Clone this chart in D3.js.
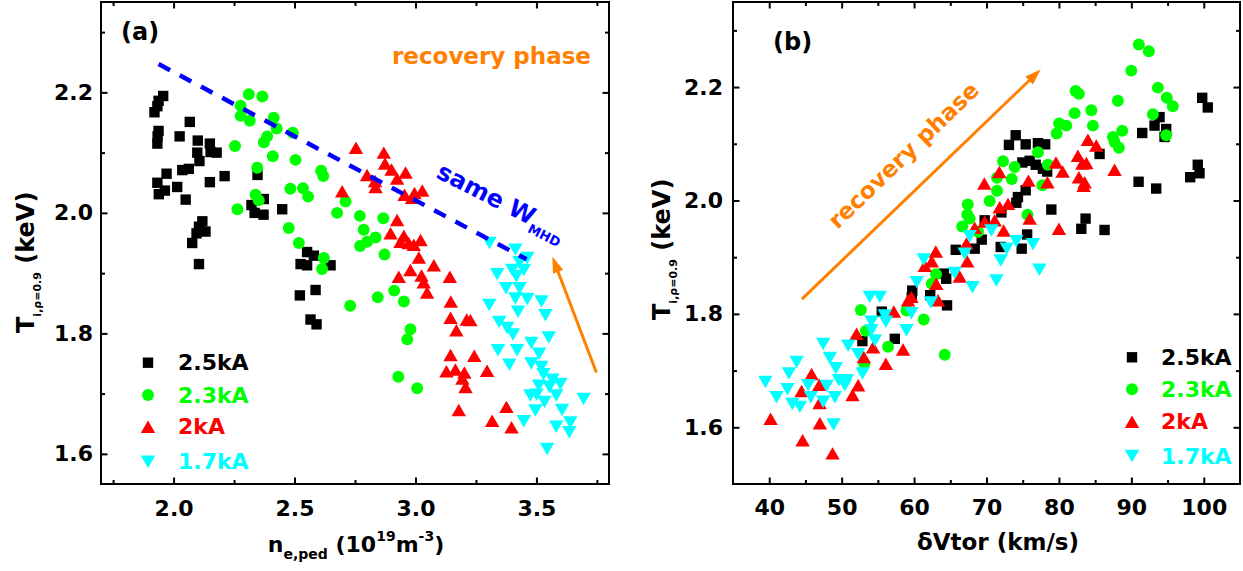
<!DOCTYPE html>
<html><head><meta charset="utf-8">
<script src="https://cdn.jsdelivr.net/npm/d3@7/dist/d3.min.js"></script>
<style>
body{margin:0;background:#fff;}
svg{display:block;}
text{font-family:"DejaVu Sans",sans-serif;font-weight:bold;}
</style></head><body>
<svg id="c" width="1243" height="571"></svg>
<script>
// ---------- series meta ----------
const seriesLabels = ["2.5kA","2.3kA","2kA","1.7kA"];
const seriesColors = ["#000000","#00ff00","#ff0000","#00ffff"];
const seriesShapes = ["square","circle","triUp","triDown"];

// ---------- ticks ----------
const aXTicks = [2.0,2.5,3.0,3.5];
const aXMinor = [1.75,2.25,2.75,3.25,3.75];
const aYTicks = [1.6,1.8,2.0,2.2];
const aYMinor = [1.7,1.9,2.1,2.3];
const bXTicks = [40,50,60,70,80,90,100];
const bXMinor = [45,55,65,75,85,95];
const bYTicks = [1.6,1.8,2.0,2.2];
const bYMinor = [1.7,1.9,2.1,2.3];
const aDomX = [1.7,3.8], aDomY = [1.55,2.35];
const bDomX = [35,105], bDomY = [1.5,2.35];

// ---------- panel (a): n_e,ped vs Ti ----------
const a25 = [[1.957,2.194],[1.938,2.186],[1.933,2.177],[1.921,2.167],[1.938,2.136],[1.934,2.127],[1.933,2.115],[2.025,2.127],[2.067,2.151],[2.100,2.120],[2.098,2.100],[2.150,2.115],[2.178,2.100],[2.153,2.101],[2.107,2.086],[1.971,2.065],[1.933,2.050],[1.964,2.037],[1.939,2.031],[2.015,2.043],[2.036,2.071],[2.063,2.073],[2.150,2.051],[2.211,2.061],[2.050,2.022],[2.119,1.986],[2.105,1.977],[2.095,1.966],[2.077,1.950],[2.132,1.969],[2.105,1.915],[2.347,2.063],[2.373,2.023],[2.322,2.013],[2.335,2.000],[2.372,1.997],[2.449,2.006],[2.552,1.935],[2.580,1.929],[2.525,1.915],[2.552,1.913],[2.649,1.913],[2.587,1.872],[2.522,1.863],[2.566,1.823],[2.591,1.815]];
const a23 = [[2.311,2.197],[2.367,2.193],[2.277,2.178],[2.277,2.161],[2.315,2.153],[2.414,2.158],[2.426,2.140],[2.387,2.127],[2.373,2.117],[2.493,2.133],[2.254,2.111],[2.410,2.094],[2.504,2.088],[2.346,2.075],[2.264,2.006],[2.339,2.030],[2.352,2.021],[2.476,1.975],[2.518,1.950],[2.483,2.040],[2.535,2.041],[2.556,2.027],[2.610,2.070],[2.619,2.061],[2.711,2.019],[2.676,2.000],[2.770,1.995],[2.867,1.991],[2.786,1.972],[2.835,1.959],[2.800,1.952],[2.771,1.945],[2.872,1.931],[2.621,1.925],[2.614,1.907],[2.912,1.871],[2.952,1.853],[2.844,1.860],[2.730,1.846],[2.979,1.807],[2.966,1.790],[2.929,1.728],[3.007,1.709]];
const a20 = [[2.754,2.108],[2.869,2.100],[2.874,2.082],[2.800,2.063],[2.901,2.072],[2.959,2.067],[2.833,2.053],[2.924,2.057],[2.835,2.043],[2.697,2.036],[2.955,2.030],[2.996,2.033],[3.028,2.037],[2.986,2.025],[2.924,1.988],[2.897,1.966],[2.952,1.962],[2.938,1.952],[2.972,1.950],[3.021,1.955],[2.993,1.947],[3.014,1.926],[3.076,1.913],[2.979,1.905],[2.931,1.894],[3.025,1.896],[3.034,1.885],[3.048,1.868],[3.142,1.894],[3.146,1.853],[3.145,1.826],[3.212,1.823],[3.227,1.822],[3.169,1.805],[3.145,1.764],[3.243,1.763],[3.128,1.737],[3.165,1.740],[3.202,1.735],[3.194,1.725],[3.207,1.711],[3.296,1.738],[3.179,1.673],[3.376,1.678],[3.317,1.655],[3.397,1.644]];
const a17 = [[3.306,1.950],[3.413,1.939],[3.462,1.925],[3.430,1.918],[3.400,1.905],[3.448,1.905],[3.338,1.898],[3.417,1.895],[3.374,1.875],[3.430,1.875],[3.413,1.858],[3.462,1.857],[3.521,1.853],[3.305,1.847],[3.424,1.836],[3.537,1.830],[3.346,1.819],[3.379,1.809],[3.403,1.798],[3.551,1.793],[3.479,1.784],[3.341,1.772],[3.420,1.772],[3.511,1.766],[3.388,1.748],[3.479,1.750],[3.520,1.744],[3.529,1.732],[3.566,1.723],[3.599,1.716],[3.510,1.713],[3.554,1.711],[3.475,1.697],[3.501,1.698],[3.582,1.697],[3.695,1.691],[3.533,1.686],[3.496,1.672],[3.606,1.673],[3.448,1.654],[3.582,1.645],[3.640,1.652],[3.636,1.636],[3.544,1.608]];
const aSameW = [[1.938,2.247],[3.459,1.923]];
const aArrow = [[3.748,1.735],[3.566,1.927]];

// ---------- panel (b): dVtor vs Ti ----------
const b25 = [[74.03,2.115],[73.10,2.098],[75.41,2.099],[77.10,2.101],[78.10,2.099],[74.95,2.067],[75.96,2.070],[76.79,2.063],[77.79,2.056],[78.37,2.051],[85.61,2.082],[91.50,2.119],[93.20,2.132],[93.89,2.147],[94.81,2.126],[94.58,2.112],[99.78,2.181],[100.55,2.164],[91.00,2.033],[93.43,2.021],[99.17,2.063],[99.41,2.048],[98.12,2.041],[78.95,1.984],[83.68,1.968],[83.09,1.950],[86.30,1.948],[75.41,2.018],[74.34,2.006],[74.12,1.996],[72.06,1.979],[69.75,1.965],[69.34,1.931],[68.37,1.915],[71.96,1.918],[74.86,1.915],[75.61,1.940],[65.75,1.913],[64.10,1.871],[64.44,1.862],[59.75,1.841],[59.68,1.829],[62.23,1.833],[64.55,1.815],[55.54,1.804],[57.34,1.756],[52.86,1.752]];
const b23 = [[91.03,2.275],[92.41,2.263],[89.99,2.229],[93.66,2.199],[94.90,2.181],[95.72,2.166],[92.97,2.152],[94.81,2.115],[88.14,2.176],[88.74,2.123],[87.45,2.112],[88.28,2.093],[87.68,2.103],[82.30,2.193],[82.76,2.188],[82.17,2.154],[84.47,2.159],[84.69,2.132],[80.03,2.136],[81.02,2.132],[79.68,2.118],[77.10,2.085],[78.48,2.063],[72.28,2.069],[73.89,2.059],[71.45,2.040],[73.48,2.038],[77.71,2.027],[71.45,2.017],[70.44,1.999],[67.41,1.993],[67.34,1.975],[66.65,1.954],[67.68,1.968],[68.83,1.945],[75.66,1.975],[63.03,1.870],[62.44,1.853],[61.34,1.790],[52.65,1.807],[58.95,1.806],[53.34,1.770],[56.41,1.742],[53.13,1.712],[64.23,1.728]];
const b20 = [[84.00,2.107],[85.16,2.097],[82.62,2.079],[83.23,2.065],[83.78,2.066],[82.76,2.041],[83.55,2.032],[83.41,2.026],[87.68,2.054],[79.59,2.067],[80.51,2.051],[78.41,2.032],[75.79,2.035],[71.77,2.050],[69.70,2.030],[71.82,1.988],[72.97,1.994],[75.96,1.968],[80.00,1.950],[71.13,1.965],[72.37,1.947],[69.75,1.963],[68.37,1.952],[67.23,1.924],[67.34,1.893],[63.00,1.910],[62.44,1.893],[61.48,1.885],[66.30,1.866],[63.06,1.853],[59.64,1.830],[59.17,1.824],[63.31,1.824],[57.20,1.804],[52.06,1.765],[54.34,1.741],[58.48,1.737],[56.10,1.712],[53.06,1.724],[45.85,1.694],[44.47,1.664],[46.92,1.675],[46.95,1.643],[51.50,1.657],[52.28,1.674],[40.19,1.615],[46.99,1.607],[44.61,1.577],[48.74,1.554]];
const b17 = [[70.68,1.947],[67.68,1.937],[66.99,1.906],[65.61,1.872],[72.79,1.915],[74.12,1.928],[76.41,1.923],[71.96,1.894],[77.30,1.878],[71.37,1.859],[68.06,1.847],[61.34,1.896],[60.37,1.856],[62.30,1.820],[59.64,1.801],[58.95,1.771],[55.96,1.797],[56.10,1.786],[54.12,1.786],[54.12,1.771],[54.58,1.753],[53.89,1.830],[55.27,1.830],[52.28,1.729],[52.88,1.695],[50.90,1.744],[47.45,1.747],[48.37,1.722],[49.20,1.704],[43.78,1.715],[42.72,1.695],[39.48,1.680],[41.02,1.653],[42.51,1.667],[43.20,1.641],[44.23,1.636],[45.38,1.674],[45.75,1.653],[47.45,1.645],[47.92,1.673],[49.06,1.653],[49.61,1.683],[50.72,1.683],[50.44,1.674],[48.88,1.605]];
const bArrow = [[44.51,1.826],[77.48,2.231]];

// ---------- drawing ----------
const svg = d3.select("#c");
const ORANGE = "#ff8000";
const FONT = '"DejaVu Sans", sans-serif';

const shapeTypes = {
  square: d3.symbolSquare,
  circle: d3.symbolCircle,
  triUp: {draw(c,s){const a=Math.sqrt(s*4/Math.sqrt(3)),h=a*Math.sqrt(3)/2;c.moveTo(0,-h/2);c.lineTo(a/2,h/2);c.lineTo(-a/2,h/2);c.closePath();}},
  triDown: {draw(c,s){const a=Math.sqrt(s*4/Math.sqrt(3)),h=a*Math.sqrt(3)/2;c.moveTo(0,h/2);c.lineTo(a/2,-h/2);c.lineTo(-a/2,-h/2);c.closePath();}}
};
const shapeSizes = {square:108, circle:112, triUp:90, triDown:90};

function styleAxis(sel){
  sel.select(".domain").remove();
  sel.selectAll("line").attr("stroke","#000").attr("stroke-width",2);
  sel.attr("font-family",FONT).attr("font-size",22).attr("font-weight","bold");
  sel.selectAll("text").attr("fill","#000");
}

function panel(cfg){
  const x = d3.scaleLinear(cfg.dx, cfg.rx);
  const y = d3.scaleLinear(cfg.dy, cfg.ry);
  const g = svg.append("g");
  cfg.series.forEach((data,i)=>{
    const sh = seriesShapes[i];
    g.append("g").selectAll("path").data(data).join("path")
      .attr("transform", d=>`translate(${x(d[0])},${y(d[1])})`)
      .attr("d", d3.symbol(shapeTypes[sh], shapeSizes[sh]))
      .attr("fill", seriesColors[i]);
  });
  const [x0,x1] = cfg.rx, [y0,y1] = cfg.ry; // y0 bottom, y1 top
  g.append("g").attr("transform",`translate(0,${y0})`)
    .call(d3.axisBottom(x).tickValues(cfg.xt).tickSize(-6.5).tickFormat(cfg.xf))
    .call(styleAxis).call(s=>s.selectAll("text").attr("y",cfg.xLabY).attr("dy",null));
  g.append("g").attr("transform",`translate(0,${y0})`)
    .call(d3.axisBottom(x).tickValues(cfg.xm).tickSize(-4).tickFormat(""))
    .call(styleAxis);
  g.append("g").attr("transform",`translate(0,${y1})`)
    .call(d3.axisTop(x).tickValues(cfg.xt).tickSize(-6.5).tickFormat(""))
    .call(styleAxis);
  g.append("g").attr("transform",`translate(0,${y1})`)
    .call(d3.axisTop(x).tickValues(cfg.xm).tickSize(-4).tickFormat(""))
    .call(styleAxis);
  g.append("g").attr("transform",`translate(${x0},0)`)
    .call(d3.axisLeft(y).tickValues(cfg.yt).tickSize(-6.5).tickPadding(cfg.yPad).tickFormat(d3.format(".1f")))
    .call(styleAxis);
  g.append("g").attr("transform",`translate(${x0},0)`)
    .call(d3.axisLeft(y).tickValues(cfg.ym).tickSize(-4).tickFormat(""))
    .call(styleAxis);
  g.append("g").attr("transform",`translate(${x1},0)`)
    .call(d3.axisRight(y).tickValues(cfg.yt).tickSize(-6.5).tickFormat(""))
    .call(styleAxis);
  g.append("g").attr("transform",`translate(${x1},0)`)
    .call(d3.axisRight(y).tickValues(cfg.ym).tickSize(-4).tickFormat(""))
    .call(styleAxis);
  g.append("rect").attr("x",x0).attr("y",y1).attr("width",x1-x0).attr("height",y0-y1)
    .attr("fill","none").attr("stroke","#000").attr("stroke-width",2);
  cfg.leg.ys.forEach((ly,i)=>{
    const sh = seriesShapes[i];
    g.append("path").attr("transform",`translate(${cfg.leg.mx},${ly})`)
      .attr("d", d3.symbol(shapeTypes[sh], shapeSizes[sh])).attr("fill", seriesColors[i]);
    g.append("text").attr("x",cfg.leg.tx).attr("y",ly+7.5).attr("font-size",22)
      .attr("fill",seriesColors[i]).text(seriesLabels[i]);
  });
  return {x,y,g};
}

function arrow(g,x,y,pts){
  const x1=x(pts[0][0]), y1=y(pts[0][1]), x2=x(pts[1][0]), y2=y(pts[1][1]);
  const ang=Math.atan2(y2-y1,x2-x1), L=16, W=5.5;
  const c=Math.cos(ang), s=Math.sin(ang);
  const bx=x2-L*c, by=y2-L*s;
  g.append("line").attr("x1",x1).attr("y1",y1).attr("x2",bx+3*c).attr("y2",by+3*s)
    .attr("stroke",ORANGE).attr("stroke-width",3);
  g.append("path").attr("d",`M${x2},${y2}L${bx-W*s},${by+W*c}L${bx+W*s},${by-W*c}Z`).attr("fill",ORANGE);
}

function yTitle(g, tx, ty){
  const t = g.append("text").attr("transform",`translate(${tx},${ty}) rotate(-90)`)
    .attr("text-anchor","start").attr("font-size",24).attr("fill","#000");
  t.append("tspan").text("T");
  t.append("tspan").attr("font-size",11).attr("dy",7).text("i,ρ=0.9");
  t.append("tspan").attr("dy",-7).text(" (keV)");
}

// ---- Panel (a)
const A = panel({dx:aDomX, dy:aDomY, rx:[101,609], ry:[484,2],
  series:[a25,a23,a20,a17], xt:aXTicks, xm:aXMinor, yt:aYTicks, ym:aYMinor,
  xf:d3.format(".1f"), xLabY:32, yPad:8,
  leg:{mx:148, tx:178, ys:[362.7,395,426.7,461.7]}});
A.g.append("path")
  .attr("d", d3.line().x(d=>A.x(d[0])).y(d=>A.y(d[1]))(aSameW))
  .attr("fill","none").attr("stroke","#0000ff").attr("stroke-width",4.5).attr("stroke-dasharray","13 11");
arrow(A.g, A.x, A.y, aArrow);
A.g.append("text").attr("x",121).attr("y",40).attr("font-size",24).attr("fill","#000").text("(a)");
A.g.append("text").attr("x",392).attr("y",64).attr("font-size",23).attr("fill",ORANGE).text("recovery phase");
const sw = A.g.append("text").attr("transform","translate(435,177) rotate(27)").attr("font-size",24).attr("fill","#0000ff");
sw.append("tspan").text("same W");
sw.append("tspan").attr("font-size",13).attr("dy",7).text("MHD");
yTitle(A.g, 34, 333);
const xa = A.g.append("text").attr("x",356).attr("y",552).attr("text-anchor","middle").attr("font-size",22).attr("fill","#000");
xa.append("tspan").text("n");
xa.append("tspan").attr("font-size",14).attr("dy",7).text("e,ped");
xa.append("tspan").attr("dy",-7).text(" (10");
xa.append("tspan").attr("font-size",14).attr("dy",-11).text("19");
xa.append("tspan").attr("dy",11).text("m");
xa.append("tspan").attr("font-size",14).attr("dy",-11).text("-3");
xa.append("tspan").attr("dy",11).text(")");

// ---- Panel (b)
const B = panel({dx:bDomX, dy:bDomY, rx:[733,1240], ry:[484,2],
  series:[b25,b23,b20,b17], xt:bXTicks, xm:bXMinor, yt:bYTicks, ym:bYMinor,
  xf:d3.format("d"), xLabY:31, yPad:10,
  leg:{mx:1132, tx:1161, ys:[357.3,389.3,421.7,456]}});
arrow(B.g, B.x, B.y, bArrow);
B.g.append("text").attr("x",773).attr("y",50).attr("font-size",24).attr("fill","#000").text("(b)");
B.g.append("text").attr("transform","translate(909,161) rotate(-44)").attr("text-anchor","middle")
  .attr("font-size",23).attr("fill",ORANGE).text("recovery phase");
yTitle(B.g, 670, 320);
B.g.append("text").attr("x",998).attr("y",550).attr("text-anchor","middle").attr("font-size",23).attr("fill","#000").text("δVtor (km/s)");
</script>
</body></html>
